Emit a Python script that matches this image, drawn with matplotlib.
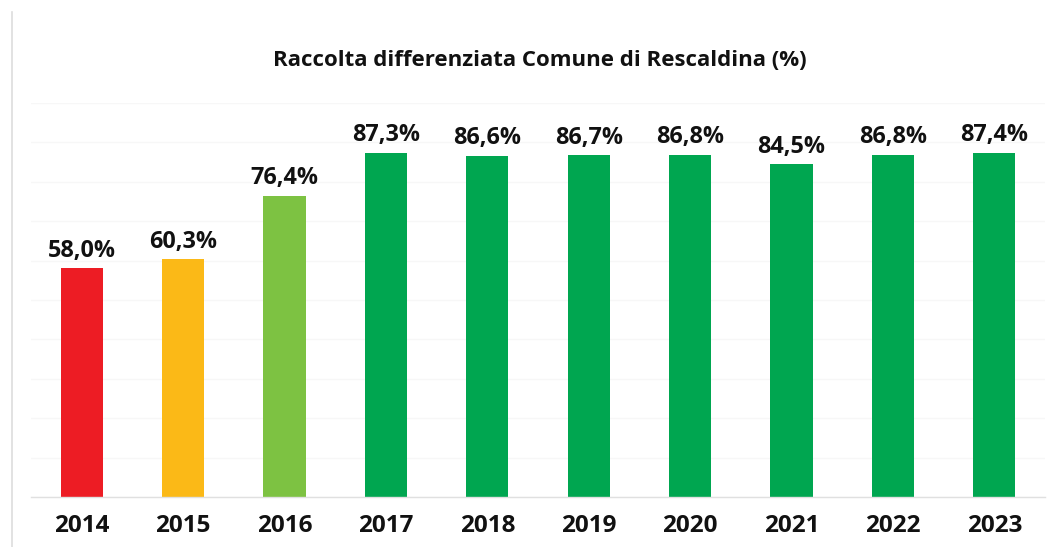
import matplotlib
matplotlib.use("Agg")
import matplotlib.pyplot as plt
from matplotlib.lines import Line2D

years = ["2014", "2015", "2016", "2017", "2018", "2019", "2020", "2021", "2022", "2023"]
values = [58.0, 60.3, 76.4, 87.3, 86.6, 86.7, 86.8, 84.5, 86.8, 87.4]
colors = ["#ED1C24", "#FBB917", "#7DC242", "#00A650", "#00A650", "#00A650",
          "#00A650", "#00A650", "#00A650", "#00A650"]
title = "Raccolta differenziata Comune di Rescaldina (%)"

plt.rcParams['font.family'] = ['Open Sans', 'DejaVu Sans']

fig = plt.figure(figsize=(10.58, 5.47), dpi=100)
ax = fig.add_axes([31/1058, 1-497/547, (1045-31)/1058, (497-103)/547])

x = range(len(years))
bars = ax.bar(x, values, width=0.415, color=colors, zorder=2)
ax.set_xlim(-0.5, len(years)-0.5)
ax.set_ylim(0, 100)
ax.set_yticks(range(0, 101, 10))
ax.yaxis.grid(True, color="#f7f7f7", linewidth=1, zorder=0)
ax.tick_params(axis='y', left=False, labelleft=False)
ax.tick_params(axis='x', bottom=False, pad=9)
ax.set_xticks(list(x))
ax.set_xticklabels(years, fontsize=17.5, fontweight='bold', color='#111111')
for s in ['top', 'right', 'left']:
    ax.spines[s].set_visible(False)
ax.spines['bottom'].set_color('#e0e0e0')
ax.spines['bottom'].set_linewidth(1)

for xi, v in zip(x, values):
    ax.annotate(f"{v:.1f}%".replace('.', ','), (xi, v), xytext=(0, 4),
                textcoords='offset points', ha='center', va='bottom',
                fontsize=16.8, fontweight='bold', color='#111111')

fig.text(540/1058, 1-60/547, title, ha='center', va='center',
         fontsize=16, fontweight='bold', color='#111111')

fig.add_artist(Line2D([12/1058, 12/1058], [0, 1-12/547], color='#dddddd',
                      linewidth=1.2, transform=fig.transFigure))

fig.savefig("out.png", dpi=100, facecolor='white')
